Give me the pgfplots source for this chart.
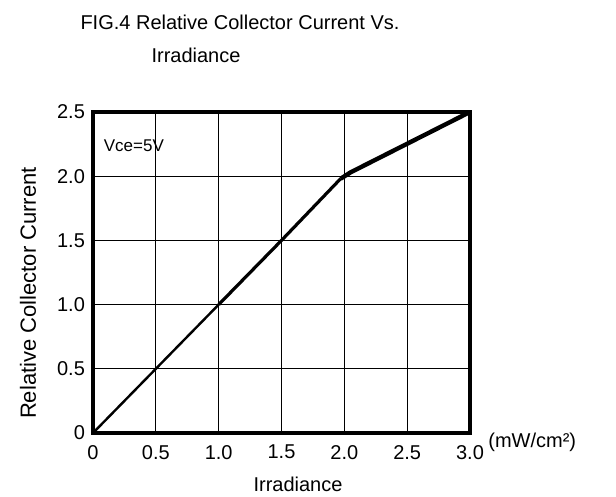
\documentclass[border=0pt]{standalone}
\usepackage{pgfplots}
\pgfplotsset{compat=1.18}
\usepackage{fontspec}
\setmainfont{Liberation Sans}
\begin{document}
\begin{tikzpicture}
\useasboundingbox (-46.5pt,-32pt) rectangle (261.5pt,216.5pt);
\begin{axis}[
    at={(0,0)}, anchor=south west,
    scale only axis,
    width=188.5pt, height=160.5pt,
    xmin=0, xmax=3, ymin=0, ymax=2.5,
    xtick={0,0.5,1,1.5,2,2.5,3},
    xticklabels={0,0.5,1.0,1.5,2.0,2.5,3.0},
    ytick={0,0.5,1,1.5,2,2.5},
    yticklabels={0,0.5,1.0,1.5,2.0,2.5},
    /pgf/number format/assume math mode=true,
    tick label style={font=\fontsize{10}{11}\selectfont},
    major tick length=0pt,
    grid=major,
    major grid style={black, line width=0.5pt},
    axis line style={line width=1.75pt},
    xticklabel style={yshift=-2.5pt},
    yticklabel style={xshift=-0.5pt},
    clip=false,
]
\addplot[black, line width=1.2pt] coordinates {(0,0) (1,1)};
\addplot[black, line width=1.6pt] coordinates {(1,1) (1.5,1.5) (1.97,1.98)};
\addplot[black, line width=2.2pt, line join=round] coordinates {(1.97,1.98) (2.05,2.03) (3,2.5)};
\node[anchor=west, font=\fontsize{8.5}{9}\selectfont] at (axis cs:0.03,2.24) {Vce=5V};
\end{axis}
\node[font=\fontsize{10}{11}\selectfont] at (73.5pt,205.5pt) {FIG.4 Relative Collector Current Vs.};
\node[font=\fontsize{10}{11}\selectfont] at (51.5pt,189pt) {Irradiance};
\node[font=\fontsize{11}{12}\selectfont, rotate=90] at (-32.5pt,70pt) {Relative Collector Current};
\node[font=\fontsize{10}{11}\selectfont] at (102.5pt,-25.5pt) {Irradiance};
\node[anchor=west, font=\fontsize{10}{11}\selectfont, inner sep=0pt] at (197.5pt,-4.5pt) {(mW/cm²)};
\end{tikzpicture}
\end{document}
